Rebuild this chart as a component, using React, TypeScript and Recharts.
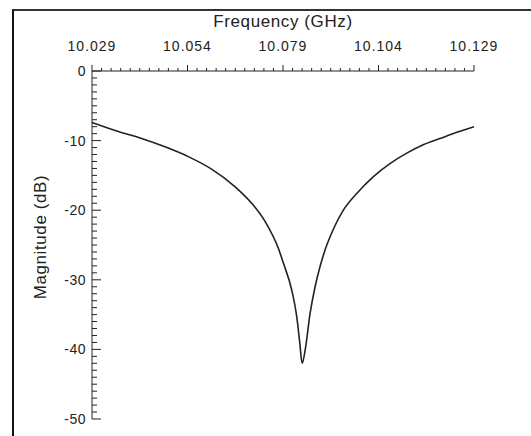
import { LineChart, Line, XAxis, YAxis, Label } from 'recharts'

// frequency in GHz, magnitude in dB
const freq = [
  10.029, 10.0359, 10.042, 10.0481, 10.0542, 10.0603, 10.0664, 10.0708, 10.0743,
  10.0778, 10.0791, 10.0813, 10.0826, 10.0834, 10.084, 10.0848, 10.0861, 10.0874,
  10.0887, 10.0896, 10.0922, 10.0948, 10.0983, 10.1026, 10.107, 10.1114, 10.1157,
  10.1201, 10.1245, 10.129,
]
const magnitude = [
  -7.4, -8.7, -9.7, -10.9, -12.3, -14.1, -16.6, -19.0, -21.6,
  -25.5, -27.6, -31.5, -35.3, -39.1, -42.0, -40.1, -34.8, -31.0,
  -28.1, -26.4, -22.7, -20.0, -17.6, -15.2, -13.3, -11.8, -10.6,
  -9.7, -8.8, -8.0,
]

const freqLabels = ['10.029', '10.054', '10.079', '10.104', '10.129']
const magLabels = ['0', '-10', '-20', '-30', '-40', '-50']

const xTicks: number[] = []
for (let i = 0; i <= 40; i++) xTicks.push(Math.round((10.029 + i * 0.0025) * 1e5) / 1e5)
const yTicks: number[] = []
for (let v = 0; v >= -50; v--) yTicks.push(v)

const data = freq.map((f, i) => ({ f, m: magnitude[i] }))

const font = '"Liberation Sans", Arial, sans-serif'

function FreqTick(props: any) {
  const { x, y, index } = props
  const major = index % 10 === 0
  return (
    <g>
      <line x1={x} y1={y} x2={x} y2={y - (major ? 6 : 3)} stroke="#222" strokeWidth={1} />
      {major && (
        <text x={x} y={y - 20} textAnchor="middle" fontSize={14} letterSpacing={1} fill="#222" fontFamily={font}>
          {freqLabels[index / 10]}
        </text>
      )}
    </g>
  )
}

function MagTick(props: any) {
  const { x, y, payload } = props
  const v = payload.value
  const major = v % 10 === 0
  return (
    <g>
      <line x1={x} y1={y} x2={x + (major ? 9 : 5)} y2={y} stroke="#222" strokeWidth={1} />
      {major && (
        <text x={x - 6} y={y + 5} textAnchor="end" fontSize={14} letterSpacing={0.5} fill="#222" fontFamily={font}>
          {magLabels[-v / 10]}
        </text>
      )}
    </g>
  )
}

export default function App() {
  return (
    <div style={{ position: 'absolute', left: 0, top: 0, width: 531, height: 436, background: '#fff' }}>
      <div
        style={{
          position: 'absolute',
          left: 12,
          top: 9,
          width: 530,
          height: 440,
          borderLeft: '2px solid #111',
          borderTop: '2px solid #333',
        }}
      />
      <LineChart
        width={531}
        height={436}
        data={data}
        margin={{ top: 11, right: 57, bottom: 17, left: 32 }}
        style={{ position: 'absolute', left: 0, top: 0 }}
      >
        <XAxis
          dataKey="f"
          type="number"
          orientation="top"
          domain={[10.029, 10.129]}
          ticks={xTicks}
          interval={0}
          height={60}
          tickSize={0}
          tickMargin={0}
          tickLine={false}
          axisLine={{ stroke: '#222', strokeWidth: 1 }}
          tick={<FreqTick />}
        >
          <Label
            value="Frequency (GHz)"
            position="insideTop"
            offset={4}
            style={{ fontSize: 17, letterSpacing: 0.6, fill: '#222', fontFamily: font }}
          />
        </XAxis>
        <YAxis
          type="number"
          domain={[-50, 0]}
          ticks={yTicks}
          interval={0}
          width={60}
          tickSize={0}
          tickMargin={0}
          tickLine={false}
          axisLine={{ stroke: '#222', strokeWidth: 1 }}
          tick={<MagTick />}
        >
          <Label
            value="Magnitude (dB)"
            angle={-90}
            position="insideLeft"
            offset={8}
            dy={-8}
            style={{ fontSize: 17, letterSpacing: 0.6, fill: '#222', fontFamily: font, textAnchor: 'middle' }}
          />
        </YAxis>
        <Line
          type="monotone"
          dataKey="m"
          stroke="#222"
          strokeWidth={1.6}
          dot={false}
          isAnimationActive={false}
        />
      </LineChart>
    </div>
  )
}
